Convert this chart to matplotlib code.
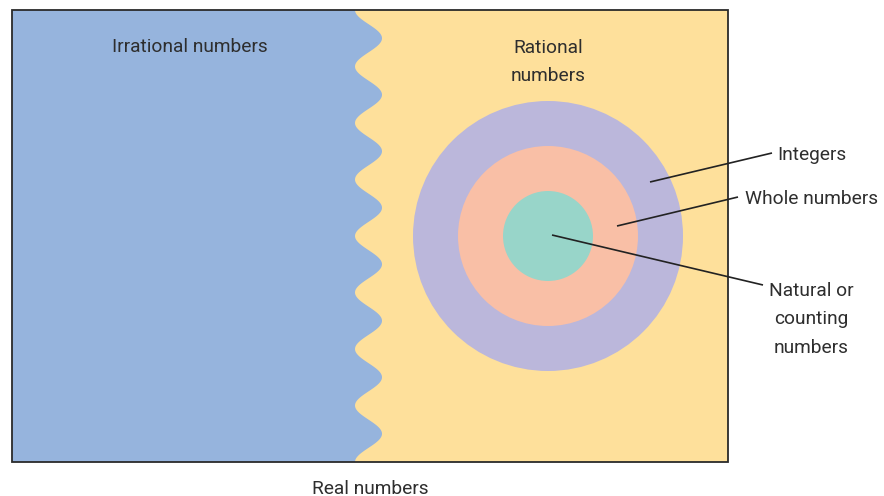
import numpy as np
import matplotlib
matplotlib.use("Agg")
import matplotlib.pyplot as plt
from matplotlib.patches import Rectangle, Circle, Polygon

# ---- data ----
set_labels = ["Integers", "Whole numbers", "Natural or\ncounting\nnumbers"]
circle_radii = [135, 90, 45]
circle_colors = ["#BBB7DB", "#F9BFA6", "#98D5C9"]
region_labels = ["Irrational numbers", "Rational\nnumbers"]
outer_label = "Real numbers"

W, H = 884, 496
box_left, box_top, box_right, box_bottom = 12, 10, 728, 462
wave_center, wave_amp, wave_period = 368.5, 13.5, 56.5
cx, cy = 548, 236

plt.rcParams["font.family"] = ["Roboto", "DejaVu Sans"]

fig = plt.figure(figsize=(W / 100, H / 100), dpi=100)
ax = fig.add_axes([0, 0, 1, 1])
ax.set_xlim(0, W)
ax.set_ylim(H, 0)
ax.axis("off")

# rational (yellow) background
ax.add_patch(Rectangle((box_left, box_top), box_right - box_left, box_bottom - box_top,
                       facecolor="#FEE09B", edgecolor="none", zorder=1))
# irrational (blue) with wavy edge
ys = np.linspace(box_top, box_bottom, 600)
xs = wave_center - wave_amp * np.cos(2 * np.pi * (ys - box_top) / wave_period)
poly = [(box_left, box_top)] + list(zip(xs, ys)) + [(box_left, box_bottom)]
ax.add_patch(Polygon(poly, closed=True, facecolor="#96B4DD", edgecolor="none", zorder=2))
# border
ax.add_patch(Rectangle((box_left, box_top), box_right - box_left, box_bottom - box_top,
                       facecolor="none", edgecolor="#2a2a2a", lw=1.3, zorder=5))

for r, c in zip(circle_radii, circle_colors):
    ax.add_patch(Circle((cx, cy), r, facecolor=c, edgecolor="none", zorder=3))

tc = "#2e2e2e"
fs = 13.8
ls = 1.72
dy = 1.5
ax.text(190, 46 + dy, region_labels[0], ha="center", va="center", fontsize=fs, color=tc, zorder=6)
ax.text(548, 60.5 + dy, region_labels[1], ha="center", va="center", fontsize=fs, color=tc,
        linespacing=ls, zorder=6)
ax.text(370, 487 + dy, outer_label, ha="center", va="center", fontsize=fs, color=tc, zorder=6)

# leader lines and labels
starts = [(650, 182), (617, 226), (552, 235)]
ends = [(772, 153), (738, 197), (763, 285)]
text_pos = [(777, 153, "left"), (745, 197, "left"), (811, 318, "center")]
for (x0, y0), (x1, y1), (tx, ty, ha), lab in zip(starts, ends, text_pos, set_labels):
    ax.plot([x0, x1], [y0, y1], color="#222222", lw=1.2, zorder=6, solid_capstyle="butt")
    ax.text(tx, ty + dy, lab, ha=ha, va="center", fontsize=fs, color=tc, linespacing=ls,
            multialignment="center", zorder=6)

fig.savefig("out.png", dpi=100, facecolor="white")
